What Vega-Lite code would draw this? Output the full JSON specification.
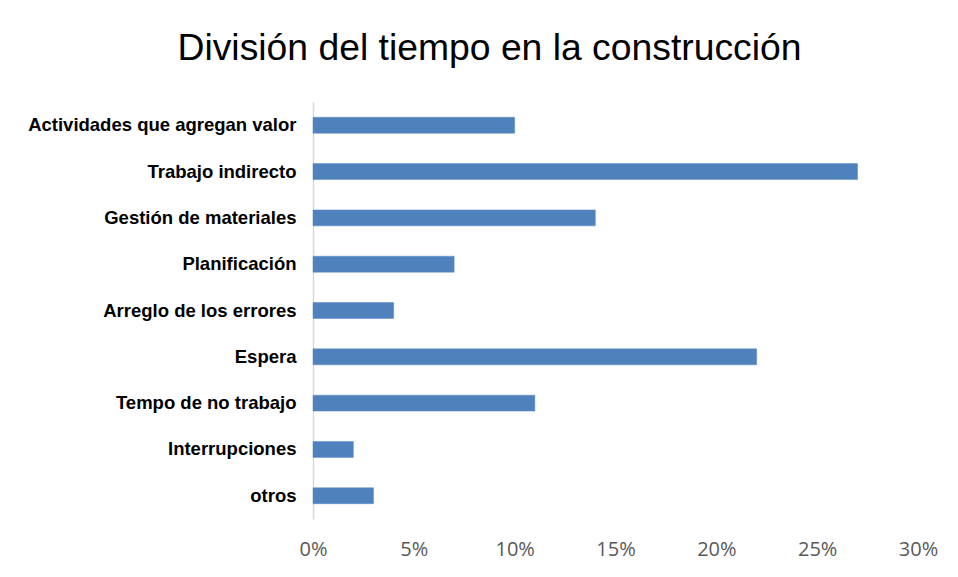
{
  "$schema": "https://vega.github.io/schema/vega-lite/v6.json",
  "autosize": "none",
  "width": 605,
  "height": 417,
  "padding": {"left": 313, "top": 102, "right": 40, "bottom": 58},
  "background": "white",
  "title": {
    "text": "División del tiempo en la construcción",
    "font": "Liberation Sans",
    "fontSize": 37.3,
    "fontWeight": "normal",
    "color": "#000000",
    "anchor": "middle",
    "frame": "group",
    "dx": -126,
    "offset": 34
  },
  "data": {
    "values": [
      {"cat": "Actividades que agregan valor", "v": 0.10},
      {"cat": "Trabajo indirecto\u2002", "v": 0.27},
      {"cat": "Gestión de materiales", "v": 0.14},
      {"cat": "Planificación", "v": 0.07},
      {"cat": "Arreglo de los errores", "v": 0.04},
      {"cat": "Espera", "v": 0.22},
      {"cat": "Tempo de no trabajo", "v": 0.11},
      {"cat": "Interrupciones", "v": 0.02},
      {"cat": "otros", "v": 0.03}
    ]
  },
  "mark": {"type": "bar", "color": "#4F81BD", "stroke": "#5B8DC6", "strokeWidth": 0.5},
  "encoding": {
    "y": {
      "field": "cat",
      "type": "nominal",
      "sort": null,
      "scale": {"paddingInner": 0.655, "paddingOuter": 0.33},
      "axis": {
        "title": null,
        "ticks": false,
        "domainColor": "#D9D9D9",
        "domainWidth": 1.5,
        "labelFont": "Liberation Sans",
        "labelFontWeight": "bold",
        "labelFontSize": 18.5,
        "labelColor": "#000000",
        "labelPadding": 17,
        "labelLimit": 400
      }
    },
    "x": {
      "field": "v",
      "type": "quantitative",
      "scale": {"domain": [0, 0.3], "nice": false},
      "axis": {
        "title": null,
        "format": ".0%",
        "values": [0, 0.05, 0.1, 0.15, 0.2, 0.25, 0.3],
        "grid": false,
        "domain": false,
        "ticks": false,
        "labelFont": "Open Sans",
        "labelFontSize": 20,
        "labelColor": "#595959",
        "labelPadding": 20,
        "labelFlush": false
      }
    }
  },
  "config": {"view": {"stroke": null}}
}
